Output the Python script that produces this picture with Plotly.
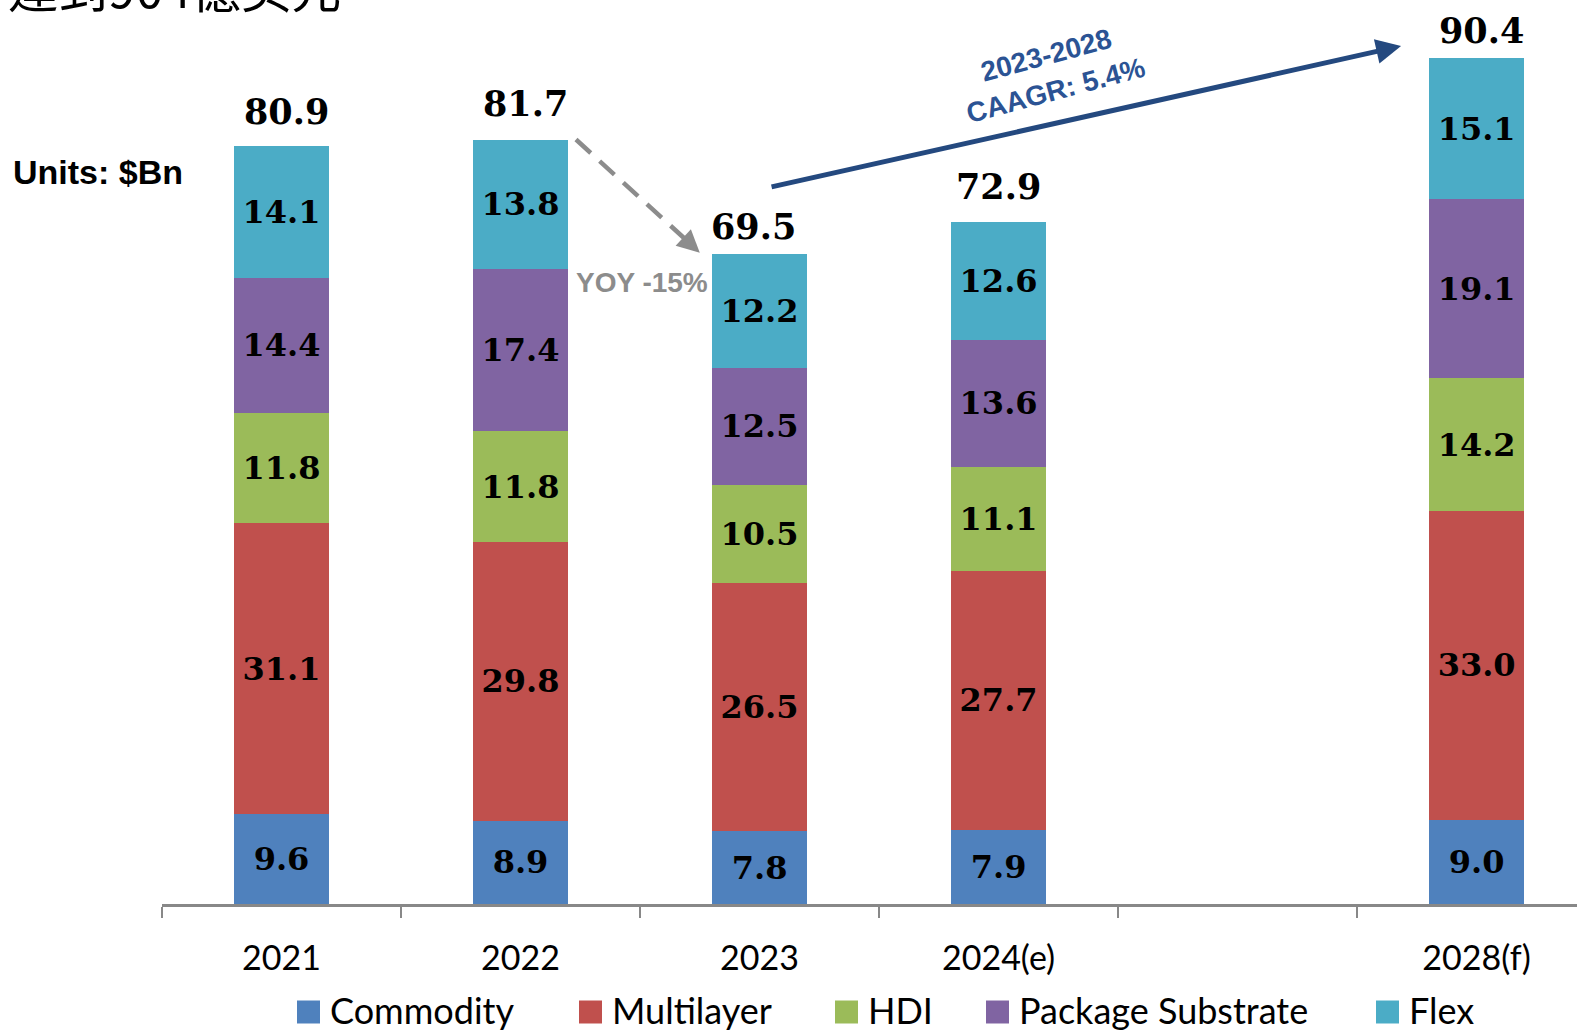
import plotly.graph_objects as go

# ---------------- data ----------------
categories = ["2021", "2022", "2023", "2024(e)", "2028(f)"]
axis_slots = ["2021", "2022", "2023", "2024(e)", " ", "2028(f)"]
series_names = ["Commodity", "Multilayer", "HDI", "Package Substrate", "Flex"]
commodity = [9.6, 8.9, 7.8, 7.9, 9.0]
multilayer = [31.1, 29.8, 26.5, 27.7, 33.0]
hdi = [11.8, 11.8, 10.5, 11.1, 14.2]
package_substrate = [14.4, 17.4, 12.5, 13.6, 19.1]
flex = [14.1, 13.8, 12.2, 12.6, 15.1]
totals = [80.9, 81.7, 69.5, 72.9, 90.4]
units_label = "Units: $Bn"
yoy_label = "YOY -15%"
cagr_label = "2023-2028<br>CAAGR: 5.4%"
header_text = "達到904億美元"

# ---------------- styles ----------------
colors = ["#4F81BD", "#C0504D", "#9BBB59", "#8064A2", "#4BACC6"]
total_xshift = [5, 5, -6, 0, 5]
total_yshift = [13, 14, 5, 13, 5]
W, H = 1577, 1031
L, B = 162, 127
PLOT_H = H - B


def px_x(p):
    return (p - L) / (W - L)


def px_y(p):
    return (PLOT_H - p) / PLOT_H


series_values = [commodity, multilayer, hdi, package_substrate, flex]
slot_index = [axis_slots.index(c) for c in categories]

fig = go.Figure()
for name, vals, col in zip(series_names, series_values, colors):
    fig.add_trace(go.Bar(
        x=categories, y=vals, name=name,
        marker=dict(color=col, line=dict(width=0)),
        width=0.395,
        text=[f"{v:.1f}" for v in vals],
        textposition="inside", insidetextanchor="middle", textangle=0,
        textfont=dict(family="DejaVu Serif", size=32, color="black", weight="bold"),
        showlegend=False, hoverinfo="skip",
    ))

annotations = []
# totals
for xi, t, xs, ys in zip(slot_index, totals, total_xshift, total_yshift):
    annotations.append(dict(
        x=xi, y=t, xref="x", yref="y", text=f"{t:.1f}", showarrow=False,
        yanchor="bottom", yshift=ys, xshift=xs,
        font=dict(family="DejaVu Serif", size=35, color="black", weight="bold"),
    ))

# units
annotations.append(dict(
    x=px_x(11), y=px_y(172), xref="paper", yref="paper", xanchor="left", yanchor="middle",
    text=units_label, showarrow=False,
    font=dict(family="Liberation Sans", size=34, color="black", weight="bold"),
))

# header (cut off at top, as in the source image)
annotations.append(dict(
    x=px_x(6), y=px_y(-14), xref="paper", yref="paper", xanchor="left", yanchor="middle",
    text=header_text, showarrow=False,
    font=dict(family="Noto Sans CJK TC", size=50, color="black"),
))

# YOY label
annotations.append(dict(
    x=px_x(642), y=px_y(282), xref="paper", yref="paper", xanchor="center", yanchor="middle",
    text=yoy_label, showarrow=False,
    font=dict(family="Liberation Sans", size=28, color="#8C8C8C", weight="bold"),
))

# gray dashed arrow head
g_start = (1 + 0.232, totals[1])
g_end = (2 - 0.25, totals[2] + 0.1)
annotations.append(dict(
    x=g_end[0], y=g_end[1], xref="x", yref="y", ax=-13, ay=-12,
    text="", showarrow=True, arrowhead=2, arrowsize=1, arrowwidth=4.5,
    arrowcolor="#8C8C8C", standoff=0,
))

# blue CAGR arrow
annotations.append(dict(
    x=4.684, y=totals[4] + 1.3, xref="x", yref="y",
    ax=2.044, ay=totals[2] + 7.1, axref="x", ayref="y",
    text="", showarrow=True, arrowhead=2, arrowsize=1, arrowwidth=5,
    arrowcolor="#24497F", standoff=0,
))
annotations.append(dict(
    x=3.22, y=88.9, xref="x", yref="y", text=cagr_label, showarrow=False,
    textangle=-15, align="center",
    font=dict(family="Liberation Sans", size=28, color="#2B5394", weight="bold"),
))

shapes = [dict(
    type="line", xref="x", yref="y",
    x0=g_start[0], y0=g_start[1], x1=g_end[0] - 0.05, y1=g_end[1] + 1.2,
    line=dict(color="#8C8C8C", width=4.5, dash="20px,12px"),
)]

# manual legend
legend_sq_x = [297, 579, 835, 986, 1376]
sq = 23
legend_cy = 1012
for name, col, sx in zip(series_names, colors, legend_sq_x):
    shapes.append(dict(
        type="rect", xref="paper", yref="paper",
        x0=px_x(sx), x1=px_x(sx + sq), y0=px_y(legend_cy + sq / 2), y1=px_y(legend_cy - sq / 2),
        fillcolor=col, line=dict(width=0),
    ))
    annotations.append(dict(
        x=px_x(sx + sq + 8), y=px_y(legend_cy - 2), xref="paper", yref="paper",
        xanchor="left", yanchor="middle", text=name, showarrow=False,
        font=dict(family="Lato", size=36, color="black"),
    ))

fig.update_layout(
    width=W, height=H,
    margin=dict(l=L, r=0, t=0, b=B, pad=0),
    barmode="stack",
    paper_bgcolor="white", plot_bgcolor="white",
    xaxis=dict(
        type="category", categoryorder="array", categoryarray=axis_slots,
        range=[-0.5, 5.42], tickson="boundaries",
        ticks="outside", ticklen=11, tickwidth=2, tickcolor="#888888",
        showline=True, linecolor="#888888", linewidth=3,
        showgrid=False, zeroline=False,
        tickfont=dict(family="Lato", size=34, color="black"),
        ticklabelstandoff=22,
    ),
    yaxis=dict(visible=False, range=[0, PLOT_H / 9.357]),
    annotations=annotations,
    shapes=shapes,
    showlegend=False,
)

fig.write_html("out.html", config={"displayModeBar": False},
               post_script="document.body.style.margin='0';")
